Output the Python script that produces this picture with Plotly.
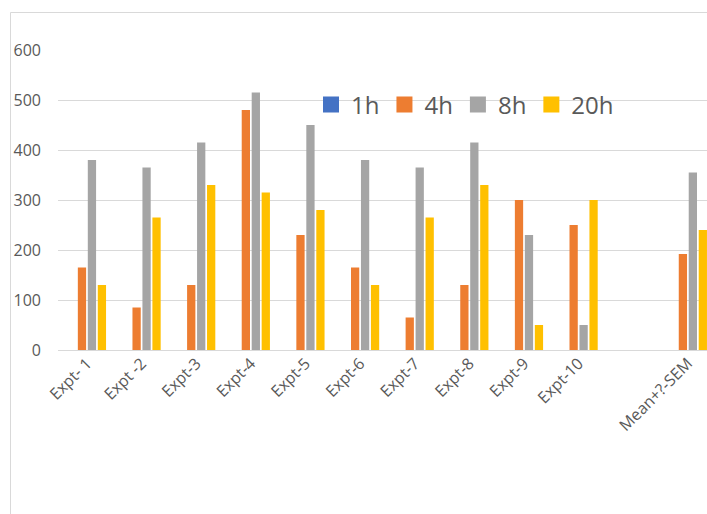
import plotly.graph_objects as go

categories = ["Expt- 1", "Expt -2", "Expt-3", "Expt-4", "Expt-5", "Expt-6",
              "Expt-7", "Expt-8", "Expt-9", "Expt-10", " ", "Mean+?-SEM"]
h1 = [0, 0, 0, 0, 0, 0, 0, 0, 0, 0, None, 0]
h4 = [165, 85, 130, 480, 230, 165, 65, 130, 300, 250, None, 192]
h8 = [380, 365, 415, 515, 450, 380, 365, 415, 230, 50, None, 355]
h20 = [130, 265, 330, 315, 280, 130, 265, 330, 50, 300, None, 240]
y_ticks = [0, 100, 200, 300, 400, 500, 600]

series = [("1h", h1, "#4472C4"), ("4h", h4, "#ED7D31"),
          ("8h", h8, "#A5A5A5"), ("20h", h20, "#FFC000")]

fig = go.Figure()
for name, vals, color in series:
    fig.add_trace(go.Bar(x=categories, y=vals, name=name, showlegend=False,
                         legendgroup=name,
                         marker=dict(color=color, line=dict(width=0))))
# legend entries with larger square swatches
for name, vals, color in series:
    fig.add_trace(go.Scatter(x=[None], y=[None], mode="markers", name=name,
                             legendgroup=name, hoverinfo="skip",
                             marker=dict(symbol="square", size=16, color=color)))

W, H = 707, 514
L, T, B = 58, 50, 164
pw = W - L
ph = H - T - B

fig.update_layout(
    width=W, height=H,
    margin=dict(l=L, r=0, t=T, b=B, pad=0),
    paper_bgcolor="white", plot_bgcolor="white",
    barmode="group", bargap=0.27, bargroupgap=0.17,
    font=dict(family="Open Sans, Noto Sans, sans-serif", color="#595959"),
    showlegend=True,
    legend=dict(orientation="h", x=(311 - 58) / pw, xanchor="left",
                y=(350 - 105) / ph, yanchor="middle",
                font=dict(size=24, color="#595959"),
                bgcolor="rgba(0,0,0,0)", traceorder="normal",
                itemwidth=30, itemsizing="trace"),
    xaxis=dict(type="category", categoryorder="array", categoryarray=categories,
               range=[-0.53, 11.35], tickangle=-45, showgrid=False,
               showline=False, ticks="", tickfont=dict(size=16, color="#595959"),
               zeroline=False),
    yaxis=dict(range=[0, 600], tickvals=y_ticks, showgrid=True,
               gridcolor="#D9D9D9", gridwidth=1, zeroline=True,
               zerolinecolor="#D9D9D9", zerolinewidth=1, showline=False,
               ticks="", ticklabelstandoff=16,
               tickfont=dict(size=16, color="#595959")),
    shapes=[dict(type="rect", xref="paper", yref="paper",
                 x0=(10.5 - L) / pw, x1=1.2,
                 y0=-1.0, y1=(350 - 12.5) / ph,
                 line=dict(color="#D9D9D9", width=1), fillcolor="rgba(0,0,0,0)",
                 layer="below")],
)

fig.write_html("out.html")
